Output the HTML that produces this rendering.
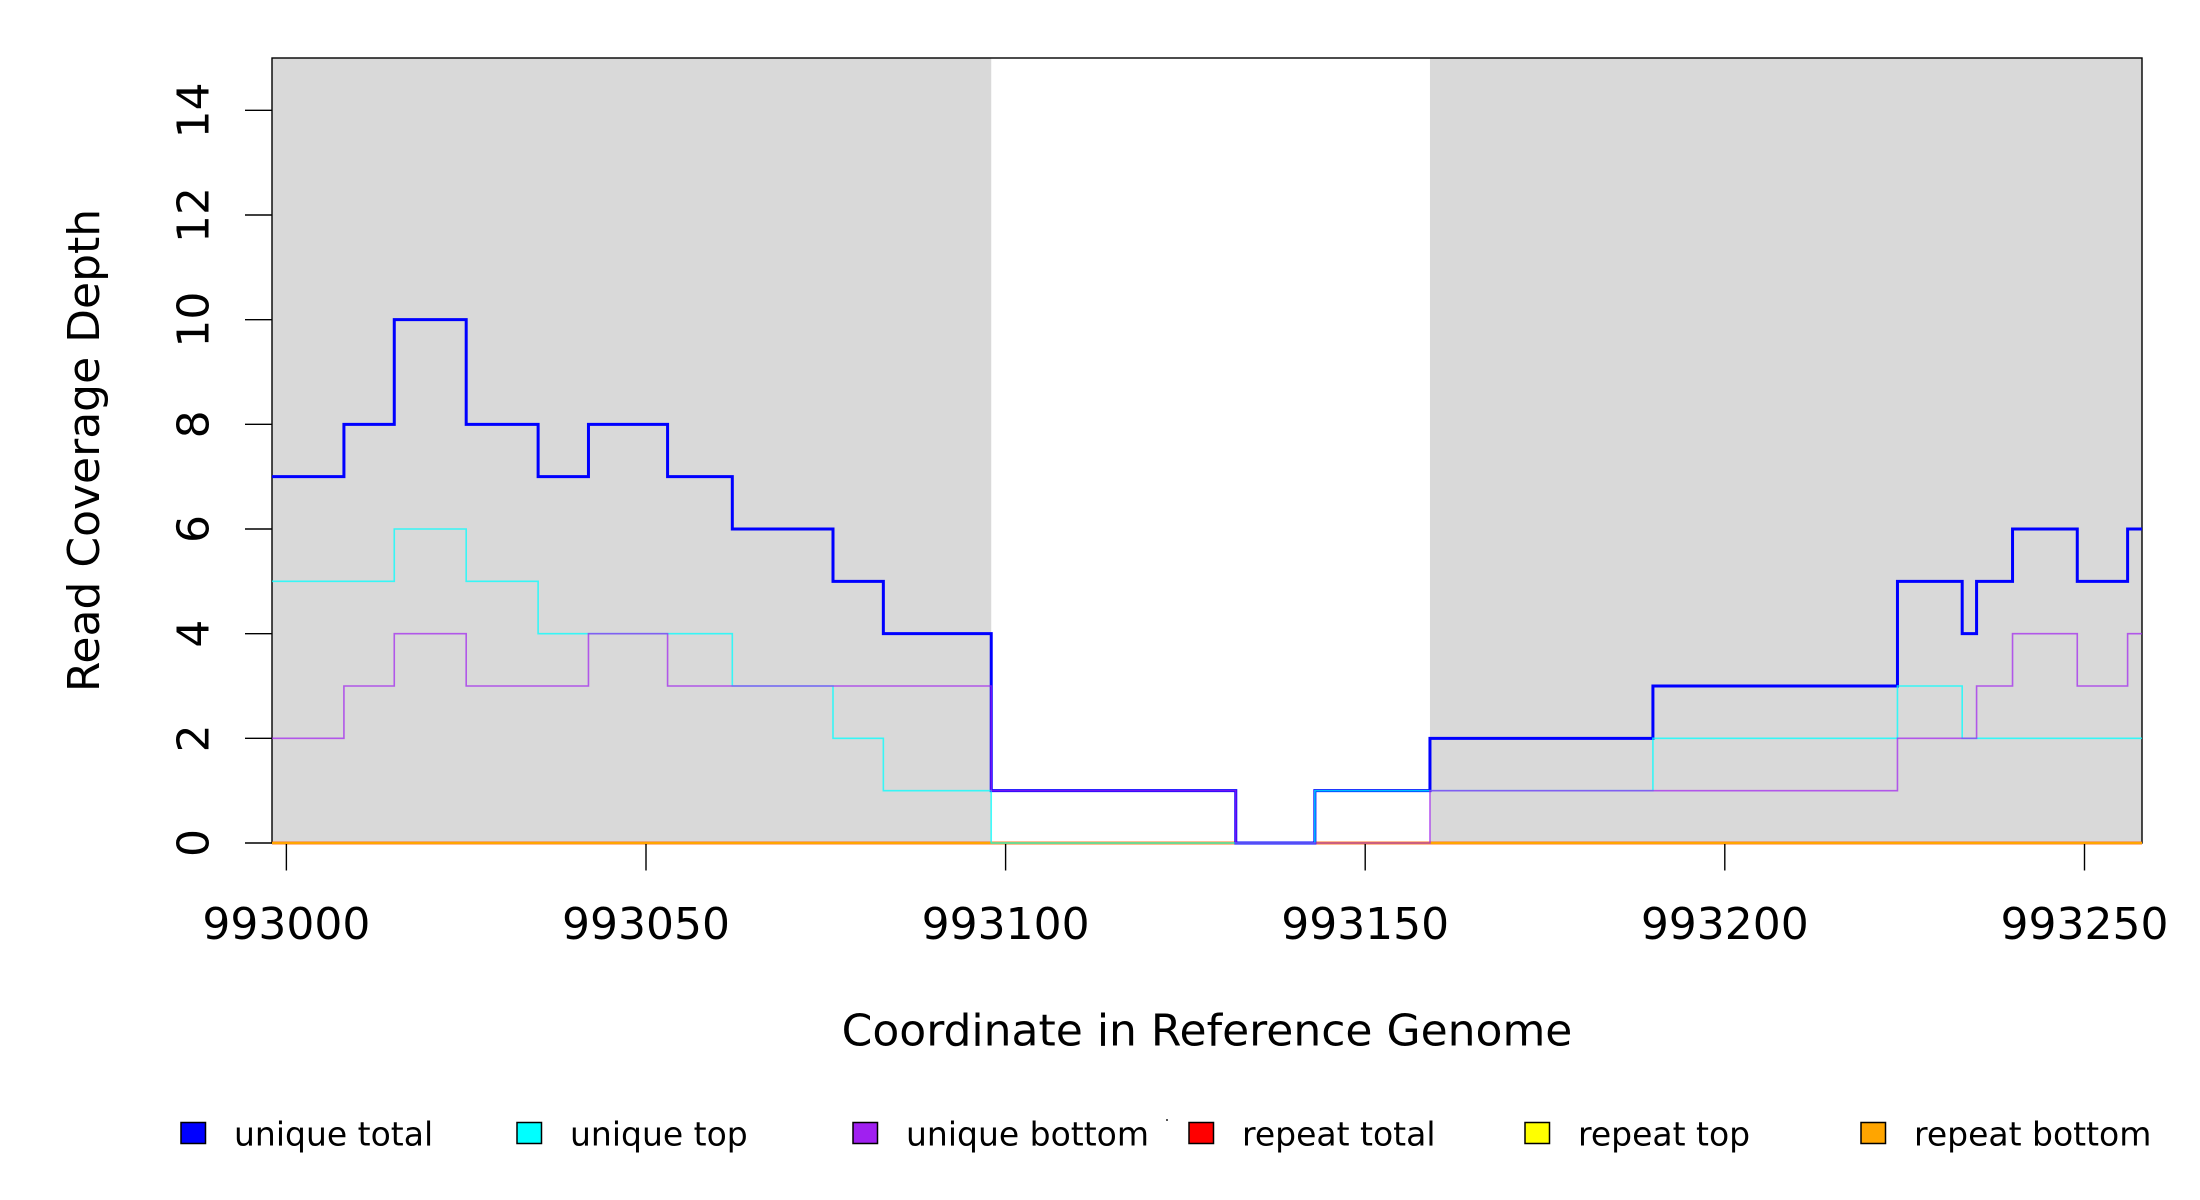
<!DOCTYPE html>
<html>
<head>
<meta charset="utf-8">
<style>
  html, body { margin: 0; padding: 0; background: #ffffff; }
  body { width: 2200px; height: 1200px; overflow: hidden; }
  svg { display: block; }
  text { font-family: "DejaVu Sans", "Liberation Sans", sans-serif; fill: #000; }
</style>
</head>
<body>
<svg width="2200" height="1200" viewBox="0 0 2200 1200" xmlns="http://www.w3.org/2000/svg">
  <rect x="0" y="0" width="2200" height="1200" fill="#ffffff"/>

  <!-- gray background regions -->
  <rect x="272" y="58" width="719.23" height="785" fill="#d9d9d9"/>
  <rect x="1429.96" y="58" width="712.04" height="785" fill="#d9d9d9"/>

  <!-- plot box (drawn under series) -->
  <rect x="272" y="58" width="1870" height="785" fill="none" stroke="#000" stroke-width="1.4"/>

  <!-- repeat lines (all zero) -->
  <path d="M272,843 H2142" fill="none" stroke="#ff0000" stroke-width="3" stroke-opacity="0.7"/>
  <path d="M272,843 H2142" fill="none" stroke="#ffff00" stroke-width="1.5" stroke-opacity="0.7"/>
  <path d="M272,843 H2142" fill="none" stroke="#ffa500" stroke-width="2.6"/>

  <!-- unique total (blue) -->
  <path d="M272,476.67 H343.92 V424.33 H394.27 V319.67 H466.19 V424.33 H538.12 V476.67 H588.46 V424.33 H667.58 V476.67 H732.31 V529 H833 V581.33 H883.35 V633.67 H991.23 V790.67 H1235.77 V843 H1314.88 V790.67 H1429.96 V738.33 H1652.92 V686 H1897.46 V581.33 H1962.19 V633.67 H1976.58 V581.33 H2012.54 V529 H2077.27 V581.33 H2127.61 V529 H2142"
        fill="none" stroke="#0000ff" stroke-width="3"/>

  <!-- unique top (cyan) -->
  <path d="M272,581.33 H394.27 V529 H466.19 V581.33 H538.12 V633.67 H732.31 V686 H833 V738.33 H883.35 V790.67 H991.23 V843 H1314.88 V790.67 H1652.92 V738.33 H1897.46 V686 H1962.19 V738.33 H2142"
        fill="none" stroke="#00ffff" stroke-width="1.6" stroke-opacity="0.75"/>

  <!-- unique bottom (purple) -->
  <path d="M272,738.33 H343.92 V686 H394.27 V633.67 H466.19 V686 H588.46 V633.67 H667.58 V686 H991.23 V790.67 H1235.77 V843 H1429.96 V790.67 H1897.46 V738.33 H1976.58 V686 H2012.54 V633.67 H2077.27 V686 H2127.61 V633.67 H2142"
        fill="none" stroke="#a020f0" stroke-width="1.6" stroke-opacity="0.7"/>

  <!-- y ticks -->
  <g stroke="#000" stroke-width="1.4">
    <line x1="245" y1="843" x2="272" y2="843"/>
    <line x1="245" y1="738.33" x2="272" y2="738.33"/>
    <line x1="245" y1="633.67" x2="272" y2="633.67"/>
    <line x1="245" y1="529" x2="272" y2="529"/>
    <line x1="245" y1="424.33" x2="272" y2="424.33"/>
    <line x1="245" y1="319.67" x2="272" y2="319.67"/>
    <line x1="245" y1="215" x2="272" y2="215"/>
    <line x1="245" y1="110.33" x2="272" y2="110.33"/>
  </g>
  <g font-size="44" text-anchor="middle">
    <text transform="translate(208.5,843) rotate(-90)">0</text>
    <text transform="translate(208.5,738.33) rotate(-90)">2</text>
    <text transform="translate(208.5,633.67) rotate(-90)">4</text>
    <text transform="translate(208.5,529) rotate(-90)">6</text>
    <text transform="translate(208.5,424.33) rotate(-90)">8</text>
    <text transform="translate(208.5,319.67) rotate(-90)">10</text>
    <text transform="translate(208.5,215) rotate(-90)">12</text>
    <text transform="translate(208.5,110.33) rotate(-90)">14</text>
  </g>

  <!-- x ticks -->
  <g stroke="#000" stroke-width="1.4">
    <line x1="286.38" y1="844" x2="286.38" y2="870.5"/>
    <line x1="646.0" y1="844" x2="646.0" y2="870.5"/>
    <line x1="1005.6" y1="844" x2="1005.6" y2="870.5"/>
    <line x1="1365.2" y1="844" x2="1365.2" y2="870.5"/>
    <line x1="1724.8" y1="844" x2="1724.8" y2="870.5"/>
    <line x1="2084.5" y1="844" x2="2084.5" y2="870.5"/>
  </g>
  <g font-size="44" text-anchor="middle">
    <text x="286.38" y="938.8">993000</text>
    <text x="646.0" y="938.8">993050</text>
    <text x="1005.6" y="938.8">993100</text>
    <text x="1365.2" y="938.8">993150</text>
    <text x="1724.8" y="938.8">993200</text>
    <text x="2084.5" y="938.8">993250</text>
  </g>

  <!-- axis titles -->
  <text x="1207" y="1045.5" font-size="44" text-anchor="middle">Coordinate in Reference Genome</text>
  <text transform="translate(99,450.5) rotate(-90)" font-size="44" text-anchor="middle">Read Coverage Depth</text>

  <!-- legend -->
  <g stroke="#000" stroke-width="1.5">
    <rect x="181" y="1122.5" width="24.5" height="21" fill="#0000ff"/>
    <rect x="517" y="1122.5" width="24.5" height="21" fill="#00ffff"/>
    <rect x="853" y="1122.5" width="24.5" height="21" fill="#a020f0"/>
    <rect x="1189" y="1122.5" width="24.5" height="21" fill="#ff0000"/>
    <rect x="1525" y="1122.5" width="24.5" height="21" fill="#ffff00"/>
    <rect x="1861" y="1122.5" width="24.5" height="21" fill="#ffa500"/>
  </g>
  <g font-size="33">
    <text x="234" y="1145.5">unique total</text>
    <text x="570" y="1145.5">unique top</text>
    <text x="906" y="1145.5">unique bottom</text>
    <text x="1242" y="1145.5">repeat total</text>
    <text x="1578" y="1145.5">repeat top</text>
    <text x="1914" y="1145.5">repeat bottom</text>
  </g>
  <rect x="1166" y="1119" width="2" height="2" fill="#555"/>
</svg>
</body>
</html>
